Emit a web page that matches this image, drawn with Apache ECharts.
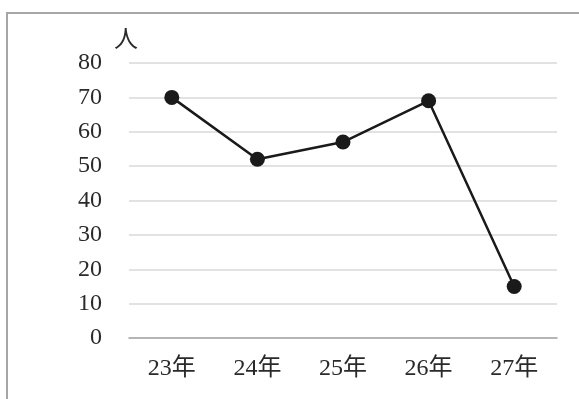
<!DOCTYPE html>
<html>
<head>
<meta charset="utf-8">
<script src="https://cdn.jsdelivr.net/npm/echarts@6/dist/echarts.min.js"></script>
<style>html,body{margin:0;padding:0;background:#fff}#c{width:579px;height:399px}</style>
</head>
<body>
<div id="c"></div>
<script>
var categories = ['23年', '24年', '25年', '26年', '27年'];
var values = [70, 52, 57, 69, 15];
var yTicks = [0, 10, 20, 30, 40, 50, 60, 70, 80];
var yName = '人';

var FONT = '"Liberation Serif", "DejaVu Serif", "Noto Sans CJK JP", serif';
var chart = echarts.init(document.getElementById('c'), null, {renderer: 'canvas'});
chart.setOption({
  animation: false,
  backgroundColor: '#ffffff',
  graphic: [{
    type: 'rect',
    shape: {x: 7, y: 13, width: 640, height: 440},
    style: {fill: 'none', stroke: '#a6a6a6', lineWidth: 2},
    silent: true
  }],
  grid: {left: 129, right: 22, top: 63, bottom: 61, containLabel: false},
  xAxis: {
    type: 'category',
    data: categories,
    boundaryGap: true,
    axisLine: {show: true, lineStyle: {color: '#a6a6a6', width: 1.5}},
    axisTick: {show: false},
    axisLabel: {margin: 19, color: '#2a2a2a', fontSize: 24, fontFamily: FONT}
  },
  yAxis: {
    type: 'value',
    min: yTicks[0],
    max: yTicks[yTicks.length - 1],
    interval: 10,
    name: yName,
    nameLocation: 'end',
    nameGap: 10,
    nameTextStyle: {color: '#2a2a2a', fontSize: 24, fontFamily: FONT, align: 'center', padding: [0, 6, 0, 0]},
    axisLine: {show: false},
    axisTick: {show: false},
    axisLabel: {margin: 27, color: '#2a2a2a', fontSize: 24, fontFamily: FONT},
    splitLine: {show: true, lineStyle: {color: '#d9d9d9', width: 1.5}}
  },
  series: [{
    type: 'line',
    data: values,
    symbol: 'circle',
    symbolSize: 15,
    lineStyle: {color: '#1a1a1a', width: 2.5},
    itemStyle: {color: '#1a1a1a'},
    label: {show: false}
  }]
});
</script>
</body>
</html>
